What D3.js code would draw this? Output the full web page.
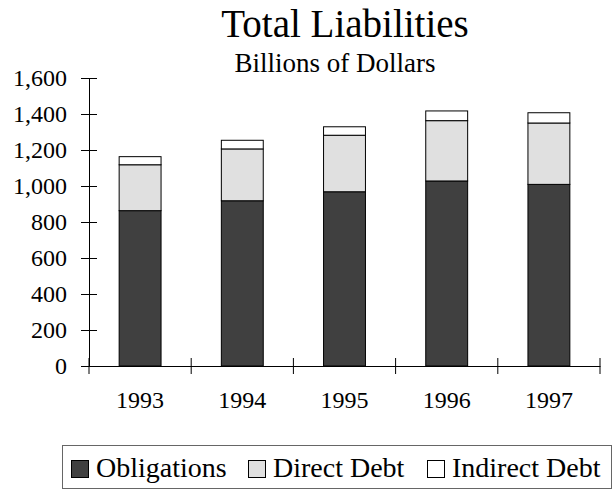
<!DOCTYPE html>
<html>
<head>
<meta charset="utf-8">
<script src="https://cdn.jsdelivr.net/npm/d3@7"></script>
<style>
  body { margin: 0; background: #fff; }
  text { font-family: "Liberation Serif", "Times New Roman", serif; fill: #000; }
</style>
</head>
<body>
<div id="chart"></div>
<script>
// data
const years = ["1993", "1994", "1995", "1996", "1997"];
const obligations = [863, 918, 968, 1028, 1009];
const directDebt = [255, 288, 314, 335, 341];
const indirectDebt = [45, 48, 47, 54, 57];
const seriesNames = ["Obligations", "Direct Debt", "Indirect Debt"];
const seriesColors = ["#404040", "#e0e0e0", "#ffffff"];
const yTicks = [0, 200, 400, 600, 800, 1000, 1200, 1400, 1600];

const width = 613, height = 489;
const margin = { left: 89, right: 13, top: 78, bottom: 123 };

const svg = d3.select("#chart").append("svg")
  .attr("width", width)
  .attr("height", height);

// table for the stack
const table = years.map((y, i) => ({
  year: y,
  "Obligations": obligations[i],
  "Direct Debt": directDebt[i],
  "Indirect Debt": indirectDebt[i]
}));
const stacked = d3.stack().keys(seriesNames)(table);

const x = d3.scaleBand()
  .domain(years)
  .range([margin.left, width - margin.right])
  .paddingInner(0.59)
  .paddingOuter(0.295);

const y = d3.scaleLinear()
  .domain([0, 1600])
  .range([height - margin.bottom, margin.top]);

// title
svg.append("text")
  .attr("x", 345)
  .attr("y", 37)
  .attr("text-anchor", "middle")
  .attr("font-size", 39)
  .text("Total Liabilities");

svg.append("text")
  .attr("x", 335)
  .attr("y", 72)
  .attr("text-anchor", "middle")
  .attr("font-size", 27)
  .text("Billions of Dollars");

// bars
svg.append("g")
  .selectAll("g")
  .data(stacked)
  .join("g")
  .attr("fill", (d, i) => seriesColors[i])
  .selectAll("rect")
  .data((d) => d)
  .join("rect")
  .attr("x", (d) => x(d.data.year))
  .attr("y", (d) => y(d[1]))
  .attr("width", x.bandwidth())
  .attr("height", (d) => y(d[0]) - y(d[1]))
  .attr("stroke", "#000")
  .attr("stroke-width", 1);

// y axis
const yAxis = svg.append("g")
  .attr("transform", `translate(${margin.left},0)`)
  .call(d3.axisLeft(y).tickValues(yTicks).tickFormat(d3.format(",")).tickSizeInner(8).tickSizeOuter(0).tickPadding(14));
yAxis.selectAll(".tick line").attr("x2", 8).attr("x1", -8);
yAxis.selectAll(".tick text").attr("font-size", 24).attr("font-family", "Liberation Serif").attr("dy", "0.33em");
yAxis.select(".domain").attr("stroke", "#000");

// x axis
const xAxis = svg.append("g")
  .attr("transform", `translate(0,${height - margin.bottom})`)
  .call(d3.axisBottom(x).tickSize(0).tickPadding(30));
xAxis.select(".domain").attr("stroke", "#000");
xAxis.selectAll(".tick text").attr("font-size", 24).attr("font-family", "Liberation Serif").attr("dy", "0.5em");
// category separators
const sepX = years.map((yr) => x(yr) - x.step() * x.paddingOuter()).concat([width - margin.right]);
xAxis.selectAll(".sep")
  .data(sepX)
  .join("line")
  .attr("class", "sep")
  .attr("x1", (d) => d).attr("x2", (d) => d)
  .attr("y1", -8).attr("y2", 8)
  .attr("stroke", "#000");

// legend
const legend = svg.append("g");
legend.append("rect")
  .attr("x", 62.5).attr("y", 445.5)
  .attr("width", 549).attr("height", 43)
  .attr("fill", "#fff")
  .attr("stroke", "#666");

const legendX = [71, 248, 427];
seriesNames.forEach((name, i) => {
  legend.append("rect")
    .attr("x", legendX[i] + 0.5).attr("y", 460.5)
    .attr("width", 17).attr("height", 17)
    .attr("fill", seriesColors[i])
    .attr("stroke", "#000");
  legend.append("text")
    .attr("x", legendX[i] + 25)
    .attr("y", 477)
    .attr("font-size", 28)
    .text(name);
});
</script>
</body>
</html>
